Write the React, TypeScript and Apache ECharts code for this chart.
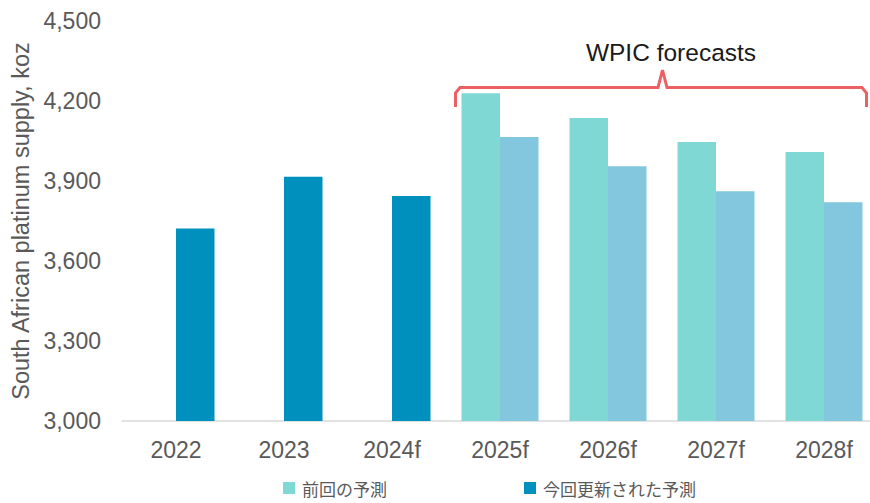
import React, { useEffect, useRef } from "react";
import * as echarts from "echarts";

const categories = ["2022", "2023", "2024f", "2025f", "2026f", "2027f", "2028f"];
const previousForecast: (number | null)[] = [null, null, null, 4229, 4136, 4046, 4009];
const currentForecast: number[] = [3722, 3916, 3844, 4065, 3955, 3862, 3820];
const forecastFlags = [false, false, false, true, true, true, true];
const seriesNames = ["前回の予測", "今回更新された予測"];
const yTitle = "South African platinum supply, koz";
const braceTitle = "WPIC forecasts";

const DARK = "#0090BD";
const TEAL = "#80D8D4";
const LIGHT = "#82C7DD";
const GREY = "#595959";
const FONT = "'Liberation Sans', Arial, sans-serif";

export default function App() {
  const ref = useRef<HTMLDivElement>(null);
  useEffect(() => {
    if (!ref.current) return;
    const chart = echarts.init(ref.current, null, { renderer: "svg" });
    chart.setOption({
      animation: false,
      backgroundColor: "#ffffff",
      textStyle: { fontFamily: FONT },
      grid: {
        left: 122,
        top: 21,
        width: 756,
        bottom: 82,
        containLabel: false,
        outerBoundsMode: "none",
      },
      legend: {
        data: seriesNames,
        left: 283,
        top: 478,
        itemWidth: 12,
        itemHeight: 12,
        itemGap: 137,
        icon: "rect",
        padding: 0,
        textStyle: {
          fontFamily: "'Noto Sans CJK JP', sans-serif",
          fontSize: 17,
          lineHeight: 20,
          color: GREY,
          padding: [0, 0, 0, 2],
        },
      },
      xAxis: {
        type: "category",
        data: categories,
        axisLine: { show: true, lineStyle: { color: "#D9D9D9", width: 1.5 } },
        axisTick: { show: false },
        axisLabel: { color: GREY, fontSize: 23, margin: 17, fontFamily: FONT },
      },
      yAxis: {
        type: "value",
        min: 3000,
        max: 4500,
        interval: 300,
        name: yTitle,
        nameLocation: "middle",
        nameRotate: 90,
        nameGap: 89,
        nameTextStyle: { color: GREY, fontSize: 23.5, fontFamily: FONT },
        axisLine: { show: false },
        axisTick: { show: false },
        splitLine: { show: false },
        axisLabel: {
          color: GREY,
          fontSize: 23,
          margin: 21,
          fontFamily: FONT,
          formatter: (v: number) => v.toLocaleString("en-US"),
        },
      },
      series: [
        {
          name: seriesNames[0],
          type: "bar",
          data: previousForecast,
          barWidth: 38.5,
          barGap: "0%",
          itemStyle: { color: TEAL },
        },
        {
          name: seriesNames[1],
          type: "bar",
          data: currentForecast.map((v, i) => ({
            value: v,
            itemStyle: { color: forecastFlags[i] ? LIGHT : DARK },
          })),
          barWidth: 38.5,
          barGap: "0%",
          itemStyle: { color: DARK },
        },
      ],
      graphic: [
        {
          type: "polyline",
          shape: {
            points: [
              [455.5, 107],
              [455.5, 93],
              [460, 87.5],
              [658, 87.5],
              [662.5, 70],
              [667, 87.5],
              [862, 87.5],
              [866.5, 93],
              [866.5, 107],
            ],
          },
          style: { stroke: "#EC5F62", lineWidth: 3, fill: null },
          silent: true,
        },
        {
          type: "text",
          x: 671,
          y: 52,
          style: {
            text: braceTitle,
            fontSize: 24.5,
            fontFamily: FONT,
            fill: "#1a1a1a",
            align: "center",
            verticalAlign: "middle",
          },
        },
      ],
    });
    return () => chart.dispose();
  }, []);
  return (
    <div
      ref={ref}
      style={{ position: "absolute", left: 0, top: 0, width: 870, height: 503 }}
    />
  );
}
